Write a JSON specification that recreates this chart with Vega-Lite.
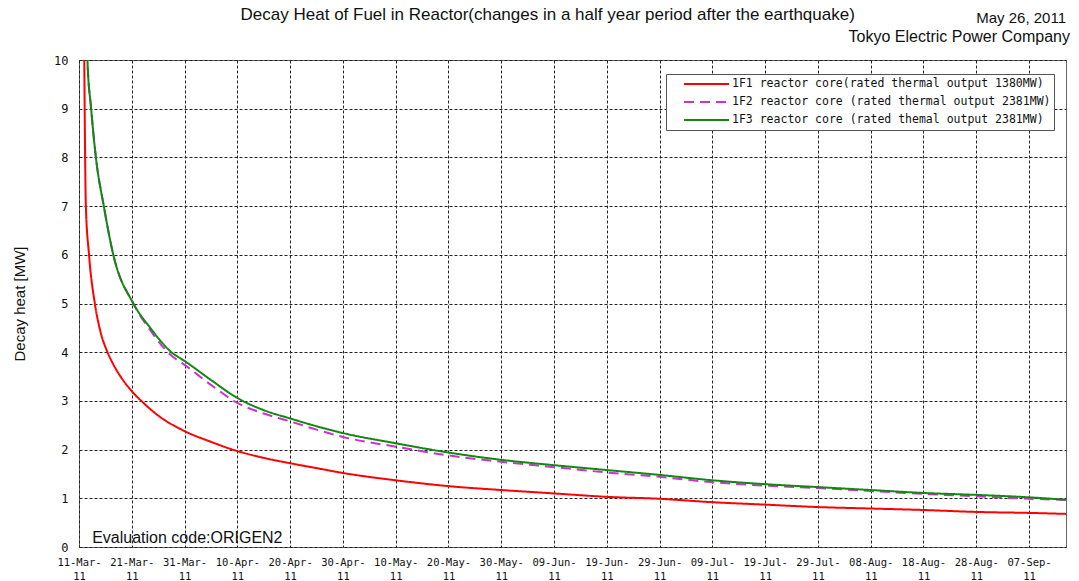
{
  "$schema": "https://vega.github.io/schema/vega-lite/v6.json",
  "autosize": {"type": "none"},
  "width": 987,
  "height": 487,
  "padding": {"left": 79, "top": 60, "right": 13, "bottom": 34},
  "background": "white",
  "config": {
    "view": {"stroke": "#666", "strokeWidth": 1},
    "axis": {
      "grid": true,
      "gridColor": "#222",
      "gridDash": [3, 2],
      "gridWidth": 1,
      "gridOpacity": 1,
      "domain": false,
      "ticks": false,
      "labelColor": "#111",
      "titleColor": "#111"
    }
  },
  "layer": [
    {
      "data": {
        "values": [
          {"series": "1F1 reactor core(rated thermal output 1380MW)", "day": 0.9, "heat": 11.5},
          {"series": "1F1 reactor core(rated thermal output 1380MW)", "day": 1.0, "heat": 10.0},
          {"series": "1F1 reactor core(rated thermal output 1380MW)", "day": 1.3, "heat": 7.0},
          {"series": "1F1 reactor core(rated thermal output 1380MW)", "day": 1.9, "heat": 6.0},
          {"series": "1F1 reactor core(rated thermal output 1380MW)", "day": 3.0, "heat": 5.0},
          {"series": "1F1 reactor core(rated thermal output 1380MW)", "day": 4.0, "heat": 4.45},
          {"series": "1F1 reactor core(rated thermal output 1380MW)", "day": 5.4, "heat": 4.0},
          {"series": "1F1 reactor core(rated thermal output 1380MW)", "day": 6.5, "heat": 3.75},
          {"series": "1F1 reactor core(rated thermal output 1380MW)", "day": 8.0, "heat": 3.48},
          {"series": "1F1 reactor core(rated thermal output 1380MW)", "day": 10.0, "heat": 3.2},
          {"series": "1F1 reactor core(rated thermal output 1380MW)", "day": 12.0, "heat": 2.98},
          {"series": "1F1 reactor core(rated thermal output 1380MW)", "day": 15.0, "heat": 2.7},
          {"series": "1F1 reactor core(rated thermal output 1380MW)", "day": 20.0, "heat": 2.38},
          {"series": "1F1 reactor core(rated thermal output 1380MW)", "day": 25.0, "heat": 2.16},
          {"series": "1F1 reactor core(rated thermal output 1380MW)", "day": 30.0, "heat": 1.97},
          {"series": "1F1 reactor core(rated thermal output 1380MW)", "day": 35.0, "heat": 1.83},
          {"series": "1F1 reactor core(rated thermal output 1380MW)", "day": 40.0, "heat": 1.72},
          {"series": "1F1 reactor core(rated thermal output 1380MW)", "day": 45.0, "heat": 1.62},
          {"series": "1F1 reactor core(rated thermal output 1380MW)", "day": 50.0, "heat": 1.52},
          {"series": "1F1 reactor core(rated thermal output 1380MW)", "day": 60.0, "heat": 1.37},
          {"series": "1F1 reactor core(rated thermal output 1380MW)", "day": 70.0, "heat": 1.25},
          {"series": "1F1 reactor core(rated thermal output 1380MW)", "day": 80.0, "heat": 1.17},
          {"series": "1F1 reactor core(rated thermal output 1380MW)", "day": 90.0, "heat": 1.1},
          {"series": "1F1 reactor core(rated thermal output 1380MW)", "day": 100.0, "heat": 1.03},
          {"series": "1F1 reactor core(rated thermal output 1380MW)", "day": 110.0, "heat": 0.99},
          {"series": "1F1 reactor core(rated thermal output 1380MW)", "day": 120.0, "heat": 0.92},
          {"series": "1F1 reactor core(rated thermal output 1380MW)", "day": 130.0, "heat": 0.87},
          {"series": "1F1 reactor core(rated thermal output 1380MW)", "day": 140.0, "heat": 0.82},
          {"series": "1F1 reactor core(rated thermal output 1380MW)", "day": 150.0, "heat": 0.79},
          {"series": "1F1 reactor core(rated thermal output 1380MW)", "day": 160.0, "heat": 0.76},
          {"series": "1F1 reactor core(rated thermal output 1380MW)", "day": 170.0, "heat": 0.72},
          {"series": "1F1 reactor core(rated thermal output 1380MW)", "day": 180.0, "heat": 0.7},
          {"series": "1F1 reactor core(rated thermal output 1380MW)", "day": 187.0, "heat": 0.68},

          {"series": "1F2 reactor core (rated thermal output 2381MW)", "day": 1.45, "heat": 11.5},
          {"series": "1F2 reactor core (rated thermal output 2381MW)", "day": 1.6, "heat": 10.0},
          {"series": "1F2 reactor core (rated thermal output 2381MW)", "day": 2.3, "heat": 9.0},
          {"series": "1F2 reactor core (rated thermal output 2381MW)", "day": 3.2, "heat": 8.0},
          {"series": "1F2 reactor core (rated thermal output 2381MW)", "day": 4.7, "heat": 7.0},
          {"series": "1F2 reactor core (rated thermal output 2381MW)", "day": 6.5, "heat": 6.0},
          {"series": "1F2 reactor core (rated thermal output 2381MW)", "day": 10.3, "heat": 5.0},
          {"series": "1F2 reactor core (rated thermal output 2381MW)", "day": 13.5, "heat": 4.45},
          {"series": "1F2 reactor core (rated thermal output 2381MW)", "day": 17.5, "heat": 3.93},
          {"series": "1F2 reactor core (rated thermal output 2381MW)", "day": 20.0, "heat": 3.74},
          {"series": "1F2 reactor core (rated thermal output 2381MW)", "day": 25.0, "heat": 3.33},
          {"series": "1F2 reactor core (rated thermal output 2381MW)", "day": 30.0, "heat": 2.96},
          {"series": "1F2 reactor core (rated thermal output 2381MW)", "day": 35.0, "heat": 2.74},
          {"series": "1F2 reactor core (rated thermal output 2381MW)", "day": 40.0, "heat": 2.58},
          {"series": "1F2 reactor core (rated thermal output 2381MW)", "day": 45.0, "heat": 2.41},
          {"series": "1F2 reactor core (rated thermal output 2381MW)", "day": 50.0, "heat": 2.26},
          {"series": "1F2 reactor core (rated thermal output 2381MW)", "day": 60.0, "heat": 2.06},
          {"series": "1F2 reactor core (rated thermal output 2381MW)", "day": 70.0, "heat": 1.88},
          {"series": "1F2 reactor core (rated thermal output 2381MW)", "day": 80.0, "heat": 1.75},
          {"series": "1F2 reactor core (rated thermal output 2381MW)", "day": 90.0, "heat": 1.64},
          {"series": "1F2 reactor core (rated thermal output 2381MW)", "day": 100.0, "heat": 1.53},
          {"series": "1F2 reactor core (rated thermal output 2381MW)", "day": 110.0, "heat": 1.44},
          {"series": "1F2 reactor core (rated thermal output 2381MW)", "day": 120.0, "heat": 1.33},
          {"series": "1F2 reactor core (rated thermal output 2381MW)", "day": 130.0, "heat": 1.26},
          {"series": "1F2 reactor core (rated thermal output 2381MW)", "day": 140.0, "heat": 1.21},
          {"series": "1F2 reactor core (rated thermal output 2381MW)", "day": 150.0, "heat": 1.15},
          {"series": "1F2 reactor core (rated thermal output 2381MW)", "day": 160.0, "heat": 1.09},
          {"series": "1F2 reactor core (rated thermal output 2381MW)", "day": 170.0, "heat": 1.04},
          {"series": "1F2 reactor core (rated thermal output 2381MW)", "day": 180.0, "heat": 0.99},
          {"series": "1F2 reactor core (rated thermal output 2381MW)", "day": 187.0, "heat": 0.97},

          {"series": "1F3 reactor core (rated themal output 2381MW)", "day": 1.45, "heat": 11.5},
          {"series": "1F3 reactor core (rated themal output 2381MW)", "day": 1.6, "heat": 10.0},
          {"series": "1F3 reactor core (rated themal output 2381MW)", "day": 2.3, "heat": 9.0},
          {"series": "1F3 reactor core (rated themal output 2381MW)", "day": 3.2, "heat": 8.0},
          {"series": "1F3 reactor core (rated themal output 2381MW)", "day": 4.7, "heat": 7.0},
          {"series": "1F3 reactor core (rated themal output 2381MW)", "day": 6.5, "heat": 6.0},
          {"series": "1F3 reactor core (rated themal output 2381MW)", "day": 10.3, "heat": 5.0},
          {"series": "1F3 reactor core (rated themal output 2381MW)", "day": 13.5, "heat": 4.5},
          {"series": "1F3 reactor core (rated themal output 2381MW)", "day": 17.5, "heat": 4.0},
          {"series": "1F3 reactor core (rated themal output 2381MW)", "day": 20.0, "heat": 3.82},
          {"series": "1F3 reactor core (rated themal output 2381MW)", "day": 25.0, "heat": 3.43},
          {"series": "1F3 reactor core (rated themal output 2381MW)", "day": 30.0, "heat": 3.06},
          {"series": "1F3 reactor core (rated themal output 2381MW)", "day": 35.0, "heat": 2.81},
          {"series": "1F3 reactor core (rated themal output 2381MW)", "day": 40.0, "heat": 2.64},
          {"series": "1F3 reactor core (rated themal output 2381MW)", "day": 45.0, "heat": 2.48},
          {"series": "1F3 reactor core (rated themal output 2381MW)", "day": 50.0, "heat": 2.34},
          {"series": "1F3 reactor core (rated themal output 2381MW)", "day": 60.0, "heat": 2.13},
          {"series": "1F3 reactor core (rated themal output 2381MW)", "day": 70.0, "heat": 1.94},
          {"series": "1F3 reactor core (rated themal output 2381MW)", "day": 80.0, "heat": 1.79},
          {"series": "1F3 reactor core (rated themal output 2381MW)", "day": 90.0, "heat": 1.68},
          {"series": "1F3 reactor core (rated themal output 2381MW)", "day": 100.0, "heat": 1.58},
          {"series": "1F3 reactor core (rated themal output 2381MW)", "day": 110.0, "heat": 1.48},
          {"series": "1F3 reactor core (rated themal output 2381MW)", "day": 120.0, "heat": 1.37},
          {"series": "1F3 reactor core (rated themal output 2381MW)", "day": 130.0, "heat": 1.29},
          {"series": "1F3 reactor core (rated themal output 2381MW)", "day": 140.0, "heat": 1.23},
          {"series": "1F3 reactor core (rated themal output 2381MW)", "day": 150.0, "heat": 1.17},
          {"series": "1F3 reactor core (rated themal output 2381MW)", "day": 160.0, "heat": 1.11},
          {"series": "1F3 reactor core (rated themal output 2381MW)", "day": 170.0, "heat": 1.07},
          {"series": "1F3 reactor core (rated themal output 2381MW)", "day": 180.0, "heat": 1.02},
          {"series": "1F3 reactor core (rated themal output 2381MW)", "day": 187.0, "heat": 0.97}
        ]
      },
      "mark": {"type": "line", "strokeWidth": 2, "clip": true, "interpolate": "monotone"},
      "encoding": {
        "x": {
          "field": "day",
          "type": "quantitative",
          "scale": {"domain": [0, 187], "nice": false, "zero": false},
          "axis": {
            "title": null,
            "values": [0, 10, 20, 30, 40, 50, 60, 70, 80, 90, 100, 110, 120, 130, 140, 150, 160, 170, 180],
            "labelExpr": "[timeFormat(datetime(2011, 2, 11 + datum.value), '%d-%b-'), '11']",
            "labelFont": "DejaVu Sans Mono",
            "labelFontSize": 10.5,
            "labelLineHeight": 14,
            "labelPadding": 10,
            "labelOverlap": false,
            "labelFlush": false,
            "labelBound": false
          }
        },
        "y": {
          "field": "heat",
          "type": "quantitative",
          "scale": {"domain": [0, 10], "nice": false},
          "axis": {
            "title": "Decay heat [MW]",
            "values": [0, 1, 2, 3, 4, 5, 6, 7, 8, 9, 10],
            "labelFont": "DejaVu Sans Mono",
            "labelFontSize": 12,
            "labelPadding": 11,
            "titleFont": "Liberation Sans",
            "titleFontSize": 15,
            "titleFontWeight": "normal",
            "titlePadding": 26
          }
        },
        "color": {
          "field": "series",
          "type": "nominal",
          "scale": {"range": ["#ff0000", "#cc33cc", "#118811"]},
          "legend": {
            "title": null,
            "orient": "none",
            "legendX": 587,
            "legendY": 14,
            "fillColor": "white",
            "strokeColor": "#555",
            "padding": 3,
            "symbolType": "stroke",
            "symbolSize": 2025,
            "symbolStrokeWidth": 2,
            "symbolOffset": 14,
            "clipHeight": 14,
            "labelOffset": 2,
            "labelFont": "DejaVu Sans Mono",
            "labelFontSize": 11.5,
            "labelColor": "#111",
            "labelLimit": 0,
            "rowPadding": 4
          }
        },
        "strokeDash": {
          "field": "series",
          "type": "nominal",
          "scale": {"range": [[1, 0], [10, 6], [1, 0]]},
          "legend": null
        }
      }
    },
    {
      "data": {"values": [{"note": "Decay Heat of Fuel in Reactor(changes in a half year period after the earthquake)"}]},
      "mark": {"type": "text", "align": "center", "baseline": "middle", "dy": -45, "font": "Liberation Sans", "fontSize": 17, "color": "#111"},
      "encoding": {"x": {"datum": 88.8}, "y": {"datum": 10}, "text": {"field": "note"}}
    },
    {
      "data": {"values": [{"note": "May 26, 2011"}]},
      "mark": {"type": "text", "align": "right", "baseline": "middle", "dy": -42, "dx": 0, "font": "Liberation Sans", "fontSize": 15, "color": "#111"},
      "encoding": {"x": {"datum": 187}, "y": {"datum": 10}, "text": {"field": "note"}}
    },
    {
      "data": {"values": [{"note": "Tokyo Electric Power Company"}]},
      "mark": {"type": "text", "align": "right", "baseline": "middle", "dy": -23, "dx": 4, "font": "Liberation Sans", "fontSize": 16, "color": "#111"},
      "encoding": {"x": {"datum": 187}, "y": {"datum": 10}, "text": {"field": "note"}}
    },
    {
      "data": {"values": [{"note": "Evaluation code:ORIGEN2"}]},
      "mark": {"type": "text", "align": "left", "baseline": "alphabetic", "dy": -4, "font": "Liberation Sans", "fontSize": 16, "color": "#111"},
      "encoding": {"x": {"datum": 2.5}, "y": {"datum": 0}, "text": {"field": "note"}}
    }
  ]
}
